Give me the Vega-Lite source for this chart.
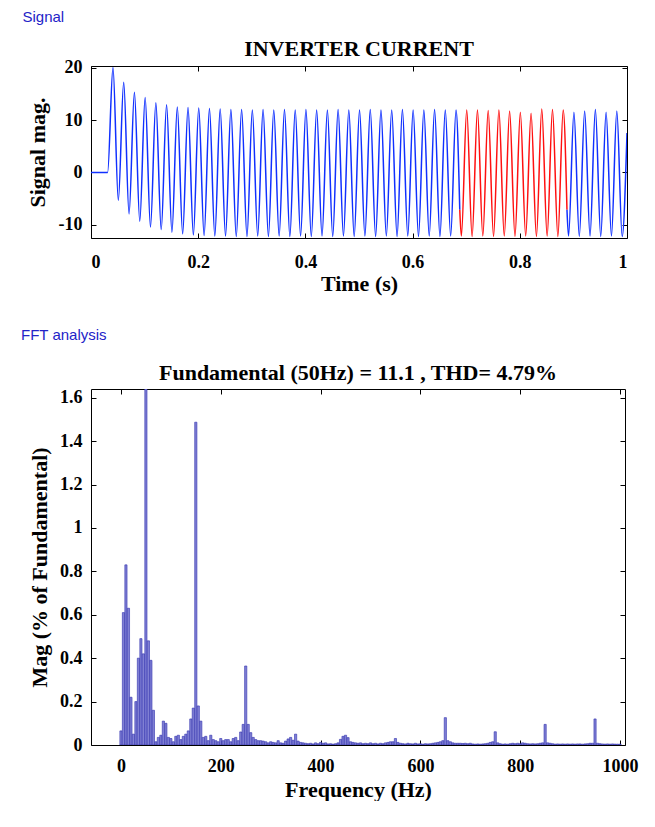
{
  "$schema": "https://vega.github.io/schema/vega-lite/v6.json",
  "background": "white",
  "padding": {"top": 10, "left": 21, "right": 0, "bottom": 0},
  "spacing": 32,
  "config": {
    "view": {"stroke": "black", "strokeWidth": 1},
    "axis": {
      "domain": false,
      "grid": false,
      "tickColor": "black",
      "tickSize": -5,
      "labelFont": "Liberation Serif",
      "labelFontWeight": "bold",
      "labelFontSize": 18,
      "labelColor": "black",
      "titleFont": "Liberation Serif",
      "titleFontWeight": "bold",
      "titleFontSize": 22,
      "titleColor": "black"
    }
  },
  "vconcat": [
    {
      "title": {"text": "Signal", "anchor": "start", "frame": "bounds", "font": "Liberation Sans", "fontSize": 15, "fontWeight": "normal", "color": "#2323c8", "offset": 12, "dx": -3},
      "vconcat": [
        {
          "width": 536,
          "height": 172,
          "title": {"text": "INVERTER CURRENT", "anchor": "middle", "frame": "group", "font": "Liberation Serif", "fontSize": 22, "fontWeight": "bold", "color": "black", "offset": -2},
          "data": {"values": [
            {"t": 0, "v": 0, "part": "b1"},
            {"t": 0.031, "v": 0, "part": "b1"},
            {"t": 0.041, "v": 20.0, "part": "b1"},
            {"t": 0.051, "v": -5.3, "part": "b1"},
            {"t": 0.061, "v": 17.2, "part": "b1"},
            {"t": 0.071, "v": -7.9, "part": "b1"},
            {"t": 0.081, "v": 15.3, "part": "b1"},
            {"t": 0.091, "v": -9.3, "part": "b1"},
            {"t": 0.101, "v": 14.3, "part": "b1"},
            {"t": 0.111, "v": -10.4, "part": "b1"},
            {"t": 0.121, "v": 13.3, "part": "b1"},
            {"t": 0.131, "v": -10.9, "part": "b1"},
            {"t": 0.141, "v": 12.9, "part": "b1"},
            {"t": 0.151, "v": -11.4, "part": "b1"},
            {"t": 0.161, "v": 12.5, "part": "b1"},
            {"t": 0.171, "v": -11.7, "part": "b1"},
            {"t": 0.181, "v": 12.4, "part": "b1"},
            {"t": 0.191, "v": -11.9, "part": "b1"},
            {"t": 0.201, "v": 12.3, "part": "b1"},
            {"t": 0.211, "v": -12.0, "part": "b1"},
            {"t": 0.221, "v": 12.2, "part": "b1"},
            {"t": 0.231, "v": -12.1, "part": "b1"},
            {"t": 0.241, "v": 12.1, "part": "b1"},
            {"t": 0.251, "v": -12.1, "part": "b1"},
            {"t": 0.261, "v": 12.0, "part": "b1"},
            {"t": 0.271, "v": -12.2, "part": "b1"},
            {"t": 0.281, "v": 12.0, "part": "b1"},
            {"t": 0.291, "v": -12.2, "part": "b1"},
            {"t": 0.301, "v": 11.9, "part": "b1"},
            {"t": 0.311, "v": -12.1, "part": "b1"},
            {"t": 0.321, "v": 12.0, "part": "b1"},
            {"t": 0.331, "v": -12.2, "part": "b1"},
            {"t": 0.341, "v": 11.9, "part": "b1"},
            {"t": 0.351, "v": -12.1, "part": "b1"},
            {"t": 0.361, "v": 12.0, "part": "b1"},
            {"t": 0.371, "v": -12.2, "part": "b1"},
            {"t": 0.381, "v": 11.9, "part": "b1"},
            {"t": 0.391, "v": -12.1, "part": "b1"},
            {"t": 0.401, "v": 12.0, "part": "b1"},
            {"t": 0.411, "v": -12.2, "part": "b1"},
            {"t": 0.421, "v": 11.9, "part": "b1"},
            {"t": 0.431, "v": -12.1, "part": "b1"},
            {"t": 0.441, "v": 11.9, "part": "b1"},
            {"t": 0.451, "v": -12.2, "part": "b1"},
            {"t": 0.461, "v": 12.0, "part": "b1"},
            {"t": 0.471, "v": -12.1, "part": "b1"},
            {"t": 0.481, "v": 11.9, "part": "b1"},
            {"t": 0.491, "v": -12.2, "part": "b1"},
            {"t": 0.501, "v": 11.9, "part": "b1"},
            {"t": 0.511, "v": -12.1, "part": "b1"},
            {"t": 0.521, "v": 12.0, "part": "b1"},
            {"t": 0.531, "v": -12.2, "part": "b1"},
            {"t": 0.541, "v": 11.9, "part": "b1"},
            {"t": 0.551, "v": -12.1, "part": "b1"},
            {"t": 0.561, "v": 11.9, "part": "b1"},
            {"t": 0.571, "v": -12.2, "part": "b1"},
            {"t": 0.581, "v": 12.0, "part": "b1"},
            {"t": 0.591, "v": -12.1, "part": "b1"},
            {"t": 0.601, "v": 11.9, "part": "b1"},
            {"t": 0.611, "v": -12.2, "part": "b1"},
            {"t": 0.621, "v": 11.9, "part": "b1"},
            {"t": 0.631, "v": -12.1, "part": "b1"},
            {"t": 0.641, "v": 12.0, "part": "b1"},
            {"t": 0.651, "v": -12.2, "part": "b1"},
            {"t": 0.661, "v": 11.9, "part": "b1"},
            {"t": 0.671, "v": -12.1, "part": "b1"},
            {"t": 0.681, "v": 11.9, "part": "b1"},
            {"t": 0.688, "v": -7.1, "part": "b1"},
            {"t": 0.688, "v": -7.1, "part": "r"},
            {"t": 0.691, "v": -12.1, "part": "r"},
            {"t": 0.701, "v": 11.9, "part": "r"},
            {"t": 0.711, "v": -12.2, "part": "r"},
            {"t": 0.721, "v": 11.9, "part": "r"},
            {"t": 0.731, "v": -12.1, "part": "r"},
            {"t": 0.741, "v": 11.8, "part": "r"},
            {"t": 0.751, "v": -12.2, "part": "r"},
            {"t": 0.761, "v": 11.9, "part": "r"},
            {"t": 0.771, "v": -12.1, "part": "r"},
            {"t": 0.781, "v": 11.7, "part": "r"},
            {"t": 0.791, "v": -12.2, "part": "r"},
            {"t": 0.801, "v": 11.5, "part": "r"},
            {"t": 0.811, "v": -12.1, "part": "r"},
            {"t": 0.821, "v": 11.3, "part": "r"},
            {"t": 0.831, "v": -12.2, "part": "r"},
            {"t": 0.841, "v": 12.1, "part": "r"},
            {"t": 0.851, "v": -12.1, "part": "r"},
            {"t": 0.861, "v": 12.0, "part": "r"},
            {"t": 0.871, "v": -12.2, "part": "r"},
            {"t": 0.881, "v": 11.9, "part": "r"},
            {"t": 0.888, "v": -7.1, "part": "r"},
            {"t": 0.888, "v": -7.1, "part": "b2"},
            {"t": 0.891, "v": -12.1, "part": "b2"},
            {"t": 0.901, "v": 11.5, "part": "b2"},
            {"t": 0.911, "v": -12.2, "part": "b2"},
            {"t": 0.921, "v": 11.7, "part": "b2"},
            {"t": 0.931, "v": -12.1, "part": "b2"},
            {"t": 0.941, "v": 12.0, "part": "b2"},
            {"t": 0.951, "v": -12.2, "part": "b2"},
            {"t": 0.961, "v": 11.5, "part": "b2"},
            {"t": 0.971, "v": -12.1, "part": "b2"},
            {"t": 0.981, "v": 11.7, "part": "b2"},
            {"t": 0.991, "v": -12.2, "part": "b2"},
            {"t": 1.0, "v": 7.5, "part": "b2"}
          ]},
          "layer": [
            {
              "mark": {"type": "line", "interpolate": "monotone", "strokeWidth": 1.5, "clip": true},
              "encoding": {
                "x": {"field": "t", "type": "quantitative", "scale": {"domain": [0, 1], "nice": false},
                      "axis": {"values": [0, 0.2, 0.4, 0.6, 0.8, 1], "format": "~g", "title": "Time (s)", "labelPadding": 20, "titlePadding": 2}},
                "y": {"field": "v", "type": "quantitative", "scale": {"domain": [-12.5, 20.3], "nice": false, "zero": false},
                      "axis": {"values": [-10, 0, 10, 20], "labelExpr": "datum.value + ''", "title": "Signal mag.", "labelPadding": 14, "titlePadding": 9}},
                "color": {"field": "part", "type": "nominal", "scale": {"domain": ["b1", "r", "b2"], "range": ["#1030ff", "#ff1010", "#1030ff"]}, "legend": null}
              }
            },
            {
              "mark": {"type": "point", "opacity": 0},
              "encoding": {
                "x": {"field": "t", "type": "quantitative", "scale": {"domain": [0, 1], "nice": false}, "axis": {"orient": "top", "values": [0, 0.2, 0.4, 0.6, 0.8, 1], "labels": false, "title": null}},
                "y": {"field": "v", "type": "quantitative", "scale": {"domain": [-12.5, 20.3], "nice": false, "zero": false}, "axis": {"orient": "right", "values": [-10, 0, 10, 20], "labels": false, "title": null}}
              }
            }
          ],
          "resolve": {"axis": {"x": "independent", "y": "independent"}}
        }
      ]
    },
    {
      "title": {"text": "FFT analysis", "anchor": "start", "frame": "bounds", "font": "Liberation Sans", "fontSize": 15, "fontWeight": "normal", "color": "#2323c8", "offset": 19, "dx": -7},
      "vconcat": [
        {
          "width": 534,
          "height": 356,
          "title": {"text": "Fundamental (50Hz) = 11.1 , THD= 4.79%", "anchor": "middle", "frame": "group", "font": "Liberation Serif", "fontSize": 22, "fontWeight": "bold", "color": "black", "offset": 1},
          "data": {"values": [
            {"f": 0, "m": 0.065}, {"f": 5, "m": 0.61}, {"f": 10, "m": 0.83}, {"f": 15, "m": 0.63}, {"f": 20, "m": 0.22},
            {"f": 25, "m": 0.05}, {"f": 30, "m": 0.2}, {"f": 35, "m": 0.4}, {"f": 40, "m": 0.49}, {"f": 45, "m": 0.42},
            {"f": 50, "m": 100}, {"f": 55, "m": 0.48}, {"f": 60, "m": 0.39}, {"f": 65, "m": 0.16}, {"f": 70, "m": 0.015},
            {"f": 75, "m": 0.035}, {"f": 80, "m": 0.045}, {"f": 85, "m": 0.11}, {"f": 90, "m": 0.1}, {"f": 95, "m": 0.035},
            {"f": 100, "m": 0.03}, {"f": 105, "m": 0.015}, {"f": 110, "m": 0.04}, {"f": 115, "m": 0.045}, {"f": 120, "m": 0.025},
            {"f": 125, "m": 0.04}, {"f": 130, "m": 0.05}, {"f": 135, "m": 0.065}, {"f": 140, "m": 0.12}, {"f": 145, "m": 0.17},
            {"f": 150, "m": 1.487}, {"f": 155, "m": 0.18}, {"f": 160, "m": 0.11}, {"f": 165, "m": 0.035}, {"f": 170, "m": 0.04},
            {"f": 175, "m": 0.02}, {"f": 180, "m": 0.045}, {"f": 185, "m": 0.025}, {"f": 190, "m": 0.02}, {"f": 195, "m": 0.015},
            {"f": 200, "m": 0.03}, {"f": 205, "m": 0.02}, {"f": 210, "m": 0.025}, {"f": 215, "m": 0.025}, {"f": 220, "m": 0.015},
            {"f": 225, "m": 0.03}, {"f": 230, "m": 0.035}, {"f": 235, "m": 0.02}, {"f": 240, "m": 0.06}, {"f": 245, "m": 0.095},
            {"f": 250, "m": 0.364}, {"f": 255, "m": 0.095}, {"f": 260, "m": 0.057}, {"f": 265, "m": 0.035}, {"f": 270, "m": 0.025},
            {"f": 275, "m": 0.02}, {"f": 280, "m": 0.02}, {"f": 285, "m": 0.018}, {"f": 290, "m": 0.015}, {"f": 295, "m": 0.01},
            {"f": 300, "m": 0.015}, {"f": 305, "m": 0.012}, {"f": 310, "m": 0.01}, {"f": 315, "m": 0.02}, {"f": 320, "m": 0.01},
            {"f": 325, "m": 0.008}, {"f": 330, "m": 0.018}, {"f": 335, "m": 0.028}, {"f": 340, "m": 0.035}, {"f": 345, "m": 0.022},
            {"f": 350, "m": 0.05}, {"f": 355, "m": 0.018}, {"f": 360, "m": 0.012}, {"f": 365, "m": 0.01}, {"f": 370, "m": 0.008},
            {"f": 375, "m": 0.006}, {"f": 380, "m": 0.008}, {"f": 385, "m": 0.005}, {"f": 390, "m": 0.01}, {"f": 395, "m": 0.006},
            {"f": 400, "m": 0.012}, {"f": 405, "m": 0.008}, {"f": 410, "m": 0.01}, {"f": 415, "m": 0.005}, {"f": 420, "m": 0.006},
            {"f": 425, "m": 0.004}, {"f": 430, "m": 0.006}, {"f": 435, "m": 0.01}, {"f": 440, "m": 0.026}, {"f": 445, "m": 0.04},
            {"f": 450, "m": 0.045}, {"f": 455, "m": 0.034}, {"f": 460, "m": 0.015}, {"f": 465, "m": 0.012}, {"f": 470, "m": 0.01},
            {"f": 475, "m": 0.008}, {"f": 480, "m": 0.01}, {"f": 485, "m": 0.006}, {"f": 490, "m": 0.008}, {"f": 495, "m": 0.006},
            {"f": 500, "m": 0.01}, {"f": 505, "m": 0.006}, {"f": 510, "m": 0.008}, {"f": 515, "m": 0.005}, {"f": 520, "m": 0.008},
            {"f": 525, "m": 0.006}, {"f": 530, "m": 0.01}, {"f": 535, "m": 0.012}, {"f": 540, "m": 0.015}, {"f": 545, "m": 0.015},
            {"f": 550, "m": 0.03}, {"f": 555, "m": 0.012}, {"f": 560, "m": 0.008}, {"f": 565, "m": 0.006}, {"f": 570, "m": 0.005},
            {"f": 575, "m": 0.008}, {"f": 580, "m": 0.006}, {"f": 585, "m": 0.005}, {"f": 590, "m": 0.008}, {"f": 595, "m": 0.005},
            {"f": 600, "m": 0.006}, {"f": 605, "m": 0.004}, {"f": 610, "m": 0.006}, {"f": 615, "m": 0.005}, {"f": 620, "m": 0.006},
            {"f": 625, "m": 0.008}, {"f": 630, "m": 0.01}, {"f": 635, "m": 0.012}, {"f": 640, "m": 0.015}, {"f": 645, "m": 0.02},
            {"f": 650, "m": 0.126}, {"f": 655, "m": 0.02}, {"f": 660, "m": 0.015}, {"f": 665, "m": 0.01}, {"f": 670, "m": 0.008},
            {"f": 675, "m": 0.008}, {"f": 680, "m": 0.008}, {"f": 685, "m": 0.007}, {"f": 690, "m": 0.008}, {"f": 695, "m": 0.006},
            {"f": 700, "m": 0.008}, {"f": 705, "m": 0.005}, {"f": 710, "m": 0.004}, {"f": 715, "m": 0.005}, {"f": 720, "m": 0.004},
            {"f": 725, "m": 0.005}, {"f": 730, "m": 0.006}, {"f": 735, "m": 0.008}, {"f": 740, "m": 0.012}, {"f": 745, "m": 0.015},
            {"f": 750, "m": 0.061}, {"f": 755, "m": 0.01}, {"f": 760, "m": 0.006}, {"f": 765, "m": 0.004}, {"f": 770, "m": 0.005},
            {"f": 775, "m": 0.004}, {"f": 780, "m": 0.006}, {"f": 785, "m": 0.008}, {"f": 790, "m": 0.006}, {"f": 795, "m": 0.008},
            {"f": 800, "m": 0.006}, {"f": 805, "m": 0.01}, {"f": 810, "m": 0.008}, {"f": 815, "m": 0.006}, {"f": 820, "m": 0.005},
            {"f": 825, "m": 0.006}, {"f": 830, "m": 0.005}, {"f": 835, "m": 0.006}, {"f": 840, "m": 0.008}, {"f": 845, "m": 0.01},
            {"f": 850, "m": 0.095}, {"f": 855, "m": 0.01}, {"f": 860, "m": 0.008}, {"f": 865, "m": 0.006}, {"f": 870, "m": 0.004},
            {"f": 875, "m": 0.005}, {"f": 880, "m": 0.004}, {"f": 885, "m": 0.005}, {"f": 890, "m": 0.004}, {"f": 895, "m": 0.005},
            {"f": 900, "m": 0.004}, {"f": 905, "m": 0.005}, {"f": 910, "m": 0.004}, {"f": 915, "m": 0.005}, {"f": 920, "m": 0.005},
            {"f": 925, "m": 0.004}, {"f": 930, "m": 0.005}, {"f": 935, "m": 0.006}, {"f": 940, "m": 0.008}, {"f": 945, "m": 0.008},
            {"f": 950, "m": 0.12}, {"f": 955, "m": 0.008}, {"f": 960, "m": 0.006}, {"f": 965, "m": 0.005}, {"f": 970, "m": 0.004},
            {"f": 975, "m": 0.005}, {"f": 980, "m": 0.004}, {"f": 985, "m": 0.005}, {"f": 990, "m": 0.004}, {"f": 995, "m": 0.004},
            {"f": 1000, "m": 0.004}
          ]},
          "layer": [
            {
              "mark": {"type": "bar", "orient": "vertical", "size": 2.2, "clip": true, "fill": "#8080d4", "stroke": "#2f2fae", "strokeWidth": 0.6},
              "encoding": {
                "x": {"field": "f", "type": "quantitative", "scale": {"domain": [-50, 1000], "nice": false, "zero": false},
                      "axis": {"values": [0, 200, 400, 600, 800, 1000], "format": "d", "title": "Frequency (Hz)", "labelPadding": 17, "titlePadding": 4}},
                "y": {"field": "m", "type": "quantitative", "scale": {"domain": [0, 1.64], "nice": false, "clamp": true},
                      "axis": {"values": [0, 0.2, 0.4, 0.6, 0.8, 1, 1.2, 1.4, 1.6], "format": "~g", "title": "Mag (% of Fundamental)", "labelPadding": 14, "titlePadding": 8}}
              }
            },
            {
              "mark": {"type": "point", "opacity": 0},
              "encoding": {
                "x": {"field": "f", "type": "quantitative", "scale": {"domain": [-50, 1000], "nice": false, "zero": false}, "axis": {"orient": "top", "values": [0, 200, 400, 600, 800, 1000], "labels": false, "title": null}},
                "y": {"field": "m", "type": "quantitative", "scale": {"domain": [0, 1.64], "nice": false, "clamp": true}, "axis": {"orient": "right", "values": [0, 0.2, 0.4, 0.6, 0.8, 1, 1.2, 1.4, 1.6], "labels": false, "title": null}}
              }
            }
          ],
          "resolve": {"axis": {"x": "independent", "y": "independent"}}
        }
      ]
    }
  ]
}
